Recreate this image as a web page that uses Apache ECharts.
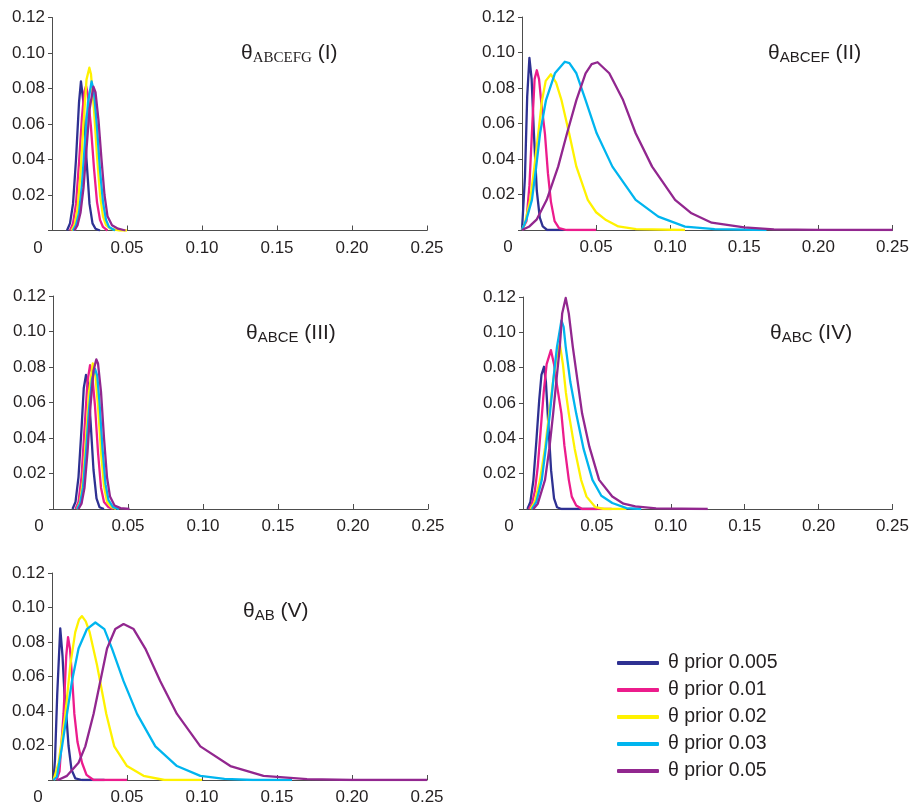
<!DOCTYPE html>
<html>
<head>
<meta charset="utf-8">
<script src="https://cdn.jsdelivr.net/npm/echarts@6/dist/echarts.min.js"></script>
<style>html,body{margin:0;padding:0;background:#fff}#c{width:912px;height:806px}</style>
</head>
<body>
<div id="c"></div>
<script>
// ---------- data ----------
const seriesNames = ['θ prior 0.005', 'θ prior 0.01', 'θ prior 0.02', 'θ prior 0.03', 'θ prior 0.05'];
const seriesColors = ['#2E3192', '#EC1C8C', '#FFF200', '#00B5EF', '#92278F'];
const xTickValues = [0, 0.05, 0.10, 0.15, 0.20, 0.25];
const yTickValues = [0, 0.02, 0.04, 0.06, 0.08, 0.10, 0.12];

// Panel I  θ_ABCEFG
const p1_005 = [[0.010,0],[0.012,0.004],[0.014,0.015],[0.016,0.040],[0.018,0.072],[0.0193,0.084],[0.021,0.072],[0.023,0.040],[0.025,0.015],[0.027,0.004],[0.029,0.001],[0.032,0]];
const p1_01  = [[0.012,0],[0.014,0.004],[0.016,0.015],[0.018,0.038],[0.020,0.064],[0.0215,0.078],[0.0227,0.0814],[0.024,0.076],[0.026,0.058],[0.028,0.035],[0.030,0.016],[0.032,0.006],[0.034,0.002],[0.037,0]];
const p1_02  = [[0.013,0],[0.015,0.003],[0.017,0.012],[0.019,0.032],[0.021,0.060],[0.023,0.085],[0.0249,0.0917],[0.026,0.088],[0.028,0.068],[0.030,0.042],[0.032,0.020],[0.034,0.008],[0.036,0.003],[0.039,0.001],[0.045,0],[0.05,0]];
const p1_03  = [[0.014,0],[0.016,0.003],[0.018,0.010],[0.020,0.026],[0.022,0.050],[0.024,0.072],[0.0264,0.084],[0.028,0.078],[0.030,0.058],[0.032,0.034],[0.034,0.016],[0.036,0.006],[0.038,0.002],[0.042,0]];
const p1_05  = [[0.015,0],[0.017,0.003],[0.019,0.010],[0.021,0.024],[0.023,0.046],[0.025,0.068],[0.0276,0.081],[0.029,0.078],[0.031,0.062],[0.033,0.040],[0.035,0.020],[0.037,0.008],[0.040,0.003],[0.044,0.001],[0.049,0]];

// Panel II  θ_ABCEF
const p2_005 = [[0,0],[0.002,0.03],[0.0035,0.075],[0.005,0.097],[0.0065,0.085],[0.008,0.055],[0.010,0.022],[0.012,0.007],[0.014,0.002],[0.017,0],[0.028,0]];
const p2_01  = [[0,0],[0.003,0.005],[0.005,0.025],[0.007,0.060],[0.0085,0.085],[0.010,0.090],[0.0115,0.085],[0.013,0.072],[0.0155,0.054],[0.0175,0.032],[0.0195,0.016],[0.022,0.005],[0.025,0.001],[0.030,0],[0.05,0]];
const p2_02  = [[0,0],[0.002,0.004],[0.0055,0.017],[0.008,0.033],[0.011,0.0545],[0.0135,0.073],[0.016,0.084],[0.0195,0.0877],[0.023,0.083],[0.0267,0.073],[0.0318,0.0545],[0.0367,0.0357],[0.0444,0.017],[0.050,0.010],[0.0567,0.0056],[0.065,0.002],[0.077,0.0005],[0.11,0]];
const p2_03  = [[0,0],[0.003,0.006],[0.0067,0.017],[0.0095,0.035],[0.0122,0.0545],[0.0162,0.0732],[0.0222,0.0883],[0.0289,0.0948],[0.032,0.094],[0.0367,0.0883],[0.0429,0.0732],[0.0504,0.0545],[0.061,0.0357],[0.0767,0.017],[0.092,0.0075],[0.11,0.0019],[0.13,0.0005],[0.165,0]];
const p2_05  = [[0,0],[0.005,0.002],[0.010,0.006],[0.0167,0.017],[0.0244,0.0357],[0.0304,0.0545],[0.0367,0.0732],[0.0429,0.0883],[0.047,0.0935],[0.051,0.0945],[0.0589,0.0883],[0.0682,0.0732],[0.0767,0.0545],[0.0878,0.0357],[0.1033,0.017],[0.1144,0.0094],[0.128,0.0041],[0.15,0.0015],[0.17,0.0004],[0.2,0.0001],[0.25,0]];

// Panel III  θ_ABCE
const p3_005 = [[0.013,0],[0.015,0.004],[0.017,0.018],[0.019,0.045],[0.0205,0.068],[0.022,0.0755],[0.0235,0.070],[0.025,0.050],[0.027,0.022],[0.029,0.006],[0.031,0.001],[0.034,0]];
const p3_01  = [[0.015,0],[0.017,0.004],[0.019,0.018],[0.021,0.045],[0.023,0.072],[0.0247,0.081],[0.026,0.077],[0.028,0.058],[0.030,0.032],[0.032,0.012],[0.034,0.004],[0.037,0.001],[0.040,0]];
const p3_02  = [[0.016,0],[0.018,0.004],[0.020,0.016],[0.022,0.040],[0.024,0.066],[0.0265,0.082],[0.028,0.078],[0.030,0.058],[0.032,0.032],[0.034,0.013],[0.036,0.004],[0.039,0.001],[0.042,0]];
const p3_03  = [[0.016,0],[0.018,0.003],[0.020,0.012],[0.022,0.032],[0.024,0.056],[0.026,0.073],[0.028,0.079],[0.0295,0.075],[0.031,0.060],[0.033,0.034],[0.035,0.014],[0.037,0.005],[0.040,0.001],[0.044,0]];
const p3_05  = [[0.017,0],[0.019,0.003],[0.021,0.012],[0.023,0.032],[0.025,0.058],[0.027,0.078],[0.0289,0.0843],[0.030,0.082],[0.032,0.066],[0.034,0.040],[0.036,0.018],[0.038,0.007],[0.041,0.002],[0.045,0.0005],[0.051,0]];

// Panel IV  θ_ABC
const p4_005 = [[0.003,0],[0.005,0.004],[0.007,0.016],[0.009,0.038],[0.011,0.062],[0.0125,0.076],[0.0142,0.0805],[0.0155,0.072],[0.017,0.050],[0.019,0.022],[0.021,0.006],[0.023,0.001],[0.026,0],[0.05,0]];
const p4_01  = [[0.004,0],[0.006,0.003],[0.008,0.010],[0.010,0.024],[0.012,0.045],[0.014,0.066],[0.016,0.082],[0.0189,0.0899],[0.021,0.082],[0.023,0.070],[0.026,0.054],[0.028,0.036],[0.031,0.0165],[0.033,0.007],[0.036,0.002],[0.040,0],[0.06,0]];
const p4_02  = [[0.005,0],[0.008,0.004],[0.0115,0.0165],[0.015,0.035],[0.0177,0.054],[0.020,0.070],[0.0225,0.085],[0.0249,0.0933],[0.027,0.082],[0.029,0.066],[0.031,0.054],[0.035,0.034],[0.0393,0.0165],[0.043,0.007],[0.049,0.001],[0.055,0],[0.07,0]];
const p4_03  = [[0.006,0],[0.009,0.004],[0.0127,0.0165],[0.0155,0.035],[0.0182,0.054],[0.0205,0.073],[0.023,0.0918],[0.026,0.1068],[0.0275,0.103],[0.0289,0.0918],[0.032,0.072],[0.036,0.054],[0.041,0.034],[0.047,0.0165],[0.053,0.0075],[0.0604,0.0034],[0.070,0.0005],[0.08,0]];
const p4_05  = [[0.007,0],[0.010,0.003],[0.0149,0.0165],[0.0178,0.034],[0.0204,0.054],[0.0225,0.072],[0.0249,0.0918],[0.0265,0.1106],[0.0289,0.1195],[0.031,0.1106],[0.0337,0.0918],[0.037,0.072],[0.040,0.054],[0.0449,0.0353],[0.0515,0.0165],[0.0604,0.0071],[0.068,0.003],[0.076,0.0015],[0.09,0.0004],[0.125,0]];

// Panel V  θ_AB
const p5_005 = [[0.001,0],[0.002,0.012],[0.0035,0.050],[0.0055,0.0879],[0.007,0.072],[0.0083,0.050],[0.0095,0.0383],[0.011,0.020],[0.013,0.006],[0.0155,0.001],[0.02,0],[0.035,0]];
const p5_01  = [[0.003,0],[0.005,0.005],[0.0077,0.0383],[0.0095,0.072],[0.0107,0.0828],[0.012,0.076],[0.0135,0.058],[0.0149,0.0383],[0.017,0.022],[0.020,0.010],[0.023,0.003],[0.0277,0],[0.05,0]];
const p5_02  = [[0.001,0],[0.0044,0.010],[0.0089,0.0383],[0.0122,0.0667],[0.0155,0.0857],[0.018,0.093],[0.020,0.095],[0.0225,0.092],[0.0251,0.0857],[0.030,0.0667],[0.0362,0.0383],[0.0415,0.0195],[0.050,0.0081],[0.061,0.0024],[0.075,0],[0.1,0]];
const p5_03  = [[0.001,0],[0.0033,0.0019],[0.0067,0.0195],[0.010,0.0383],[0.0133,0.0573],[0.0177,0.0762],[0.0233,0.0875],[0.0289,0.0913],[0.0349,0.0875],[0.040,0.0762],[0.0477,0.0573],[0.0567,0.0383],[0.0689,0.0195],[0.0833,0.0081],[0.0989,0.0024],[0.115,0.0007],[0.134,0],[0.16,0]];
const p5_05  = [[0.004,0],[0.010,0.0024],[0.0177,0.010],[0.0222,0.0195],[0.0277,0.0383],[0.0322,0.0573],[0.0367,0.0762],[0.0422,0.0875],[0.0477,0.0904],[0.0544,0.0875],[0.0622,0.0762],[0.0722,0.0573],[0.0833,0.0383],[0.0989,0.0195],[0.1189,0.0081],[0.141,0.0024],[0.17,0.0005],[0.2,0],[0.25,0]];

const panelData = [
  [p1_005, p1_01, p1_02, p1_03, p1_05],
  [p2_005, p2_01, p2_02, p2_03, p2_05],
  [p3_005, p3_01, p3_02, p3_03, p3_05],
  [p4_005, p4_01, p4_02, p4_03, p4_05],
  [p5_005, p5_01, p5_02, p5_03, p5_05]
];
const panelSubscripts = ['ABCEFG', 'ABCEF', 'ABCE', 'ABC', 'AB'];
const panelRoman = ['(I)', '(II)', '(III)', '(IV)', '(V)'];

// ---------- layout ----------
const grids = [
  {left: 52,  top: 17.5, width: 375, height: 213},
  {left: 522, top: 17,   width: 375, height: 213},
  {left: 53,  top: 296,  width: 375, height: 213},
  {left: 523, top: 297,  width: 375, height: 212},
  {left: 52,  top: 573,  width: 375, height: 211}
];
const titlePos = [
  {left: 236, top: 36},
  {left: 763, top: 36},
  {left: 241, top: 316},
  {left: 765, top: 316},
  {left: 238, top: 594}
];

const txtColor = '#231f20';
const axisColor = '#4d4d4d';
const FONT = '"Liberation Sans", Arial, sans-serif';

const xAxes = grids.map((g, i) => ({
  type: 'value', gridIndex: i, min: 0, max: 0.25, interval: 0.05,
  axisLine: {show: true, lineStyle: {color: axisColor, width: 1}},
  axisTick: {show: true, inside: true, length: 5, lineStyle: {color: axisColor}},
  splitLine: {show: false},
  axisLabel: {
    margin: 9, color: txtColor, fontSize: 17, fontFamily: FONT,
    formatter: v => v === 0 ? '{z|0}' : v.toFixed(2),
    rich: {z: {padding: [0, 28, 0, 0], fontSize: 17, color: txtColor, fontFamily: FONT}}
  }
}));
const yAxes = grids.map((g, i) => ({
  type: 'value', gridIndex: i, min: 0, max: 0.12, interval: 0.02,
  axisLine: {show: true, lineStyle: {color: axisColor, width: 1}},
  axisTick: {show: true, inside: false, length: 4, lineStyle: {color: axisColor}},
  splitLine: {show: false},
  axisLabel: {
    margin: 7, color: txtColor, fontSize: 17, fontFamily: FONT,
    formatter: v => v === 0 ? '' : v.toFixed(2)
  }
}));

const titles = panelSubscripts.map((s, i) => ({
  left: titlePos[i].left, top: titlePos[i].top,
  text: '{t|θ}{s|' + s + '}{t| ' + panelRoman[i] + '}',
  textStyle: {
    fontWeight: 'normal',
    rich: {
      t: {fontSize: 21, fontWeight: 'normal', color: txtColor, fontFamily: FONT, lineHeight: 24},
      s: {fontSize: 15, fontWeight: 'normal', color: txtColor, fontFamily: i === 0 ? '"Liberation Serif", "Times New Roman", serif' : FONT, padding: [10, 0, 0, 0], lineHeight: 24}
    }
  }
}));

const series = [];
panelData.forEach((arr, p) => {
  arr.forEach((d, k) => {
    series.push({
      type: 'line', name: seriesNames[k], xAxisIndex: p, yAxisIndex: p,
      data: d, showSymbol: false, smooth: false,
      lineStyle: {color: seriesColors[k], width: 2.3, join: 'round'},
      itemStyle: {color: seriesColors[k]},
      z: 2 + k, animation: false
    });
  });
});

const chart = echarts.init(document.getElementById('c'), null, {renderer: 'canvas'});
chart.setOption({
  backgroundColor: '#fff',
  animation: false,
  title: titles,
  grid: grids,
  xAxis: xAxes,
  yAxis: yAxes,
  legend: {
    data: seriesNames, orient: 'vertical', left: 612, top: 648,
    icon: 'roundRect', itemWidth: 42, itemHeight: 4, itemGap: 7,
    textStyle: {fontSize: 19.5, lineHeight: 20, color: txtColor, fontFamily: FONT, padding: [0, 0, 0, 4]},
    selectedMode: false
  },
  series: series
});
</script>
</body>
</html>
